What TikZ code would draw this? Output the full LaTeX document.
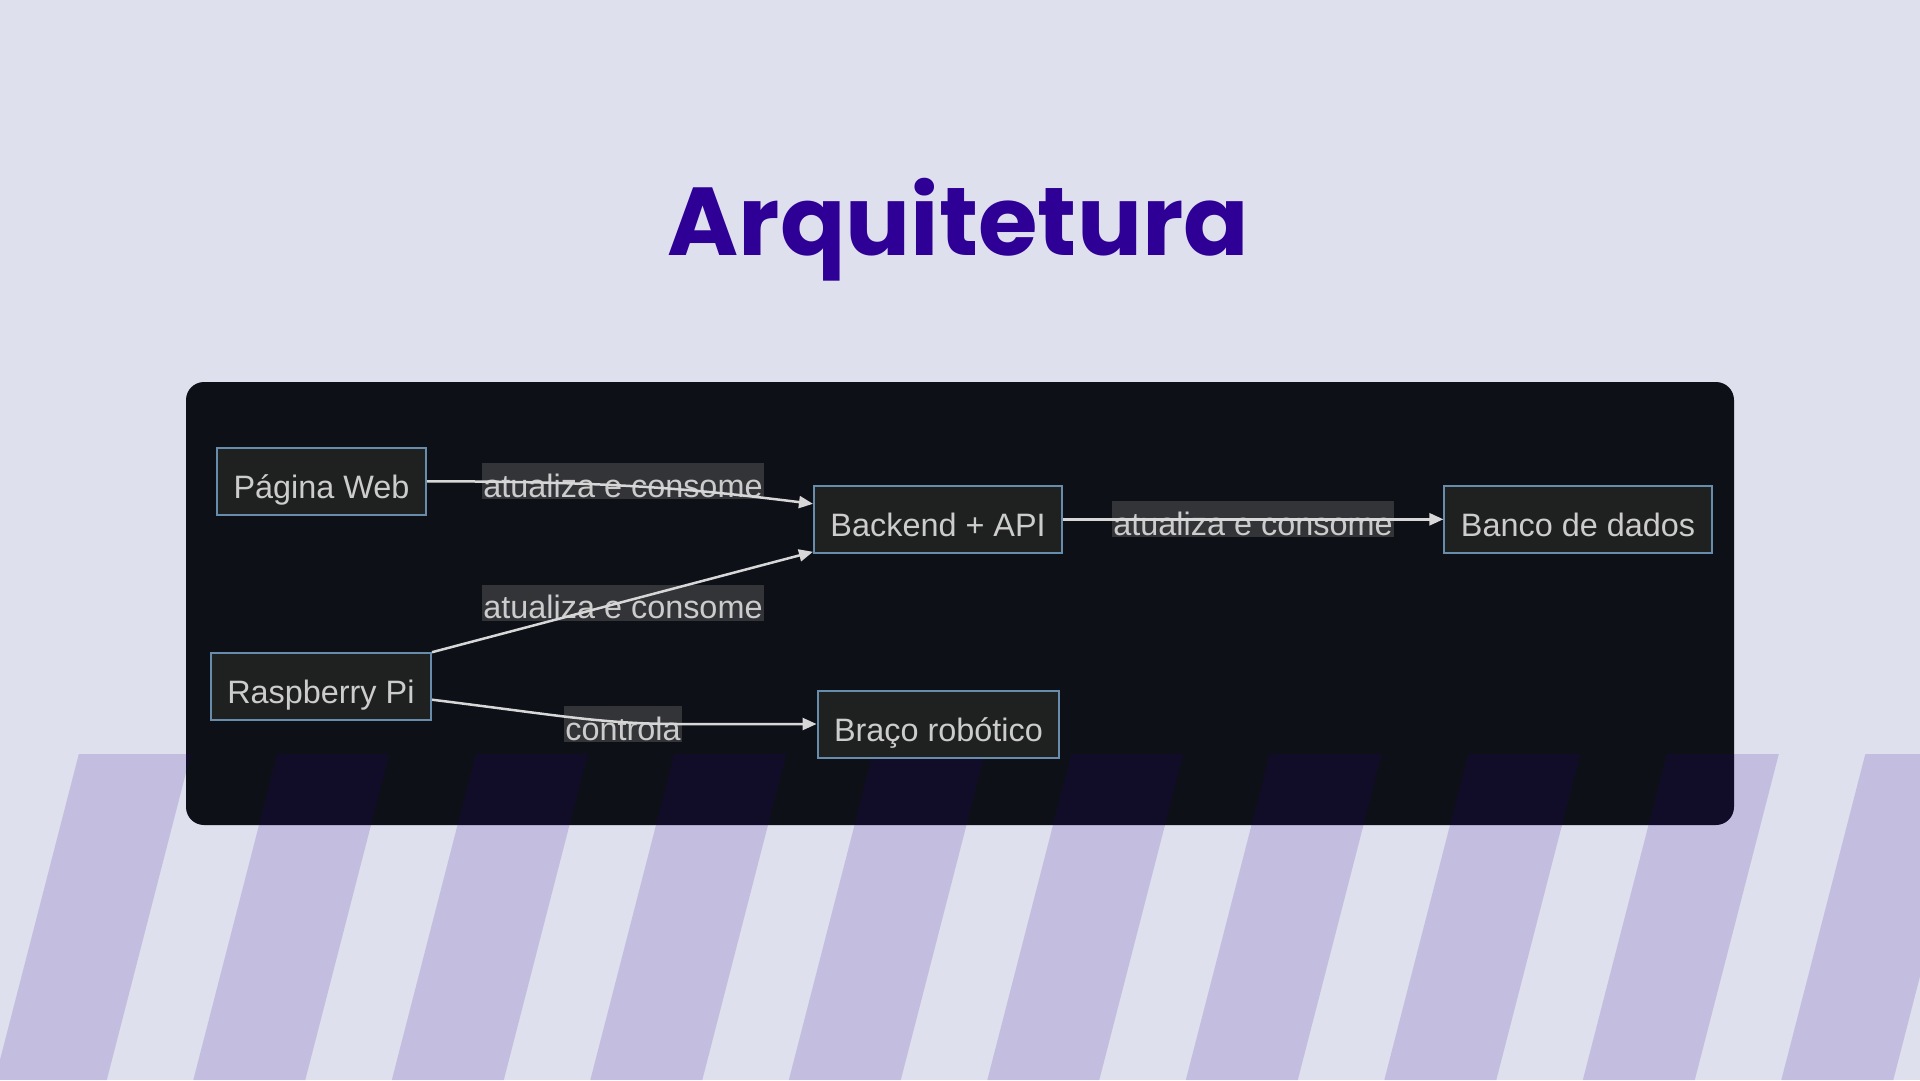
\documentclass[tikz,border=0pt]{standalone}
\usepackage{fontspec}
\setmainfont{Liberation Sans}
\newfontfamily\titlefont{Poppins}
\usetikzlibrary{arrows.meta}
\usetikzlibrary{calc}
\usepackage{xcolor}
\definecolor{pagebg}{RGB}{222,224,237}
\definecolor{titlepurple}{RGB}{46,0,150}
\definecolor{panelbg}{RGB}{13,16,23}
\definecolor{nodefill}{RGB}{31,32,32}
\definecolor{nodeborder}{RGB}{104,140,172}
\definecolor{nodetext}{RGB}{204,204,204}
\definecolor{edgegray}{RGB}{215,215,215}
\definecolor{labelgray}{RGB}{88,88,88}

\begin{document}
\begin{tikzpicture}[x=1pt, y=-1pt]
        % ================= 样式定义 =================
        \tikzset{
            box/.style={draw=nodeborder, line width=2pt, fill=nodefill, text=nodetext, minimum height=67pt, inner xsep=16.5pt, text height=34pt, text depth=0pt, font=\fontsize{32.4}{38}\selectfont},
            edge_label/.style={fill=labelgray, fill opacity=0.5, text opacity=1, text=nodetext, inner xsep=1pt, inner ysep=0pt, text height=34pt, text depth=2pt, font=\fontsize{32.4}{38}\selectfont},
            flow/.style={line width=2.5pt, edgegray, -{Triangle[length=14pt, width=12pt]}},
            stripe/.style={fill=titlepurple, fill opacity=0.15}
        }

        % ================= 背景与标题 =================
        \useasboundingbox[fill=pagebg] (0,0) rectangle (1920,1080);
        \node[anchor=base, text=titlepurple, font=\titlefont\bfseries\fontsize{96.5}{97}\selectfont] (title) at (958.4,255) {Arquitetura};

        % 深色面板
        \fill[panelbg, rounded corners=18pt] (186,382) rectangle (1734,825);

        % 斜条纹
        \foreach \k in {0,...,9} {
            \fill[stripe] ({78.8+198.5*\k},754) -- ++(112,0) -- ++(-84,326) -- ++(-112,0) -- cycle;
        }

        % ================= 流程图节点 =================
        \node[box] (web) at (321.5,481.3) {Página Web};
        \node[box] (rpi) at (320.9,686.7) {Raspberry Pi};
        \node[box] (api) at (938.1,519.3) {Backend + API};
        \node[box] (bd) at (1578,519.3) {Banco de dados};
        \node[box] (bra) at (938.5,724) {Braço robótico};

        % 边标签
        \node[edge_label] (lbl1) at (623,481) {atualiza e consome};
        \node[edge_label] (lbl2) at (623,602.5) {atualiza e consome};
        \node[edge_label] (lbl3) at (1253,519.3) {atualiza e consome};
        \node[edge_label] (ctl) at (623,724) {controla};

        % ================= 连线 =================
        \draw[flow] (web.east) .. controls +(194,0) and +(-114,-14) .. ($(api.west)+(0,-15.5)$);
        \draw[flow] (rpi.north east) -- ($(api.south west)+(0,-2)$);
        \draw[flow] ($(rpi.east)+(0,13)$) .. controls +(130,16) and +(-80,0) .. (ctl.east |- bra.west) -- (bra.west);
        \draw[flow] (api.east) -- (bd.west);

    \end{tikzpicture}
\end{document}
